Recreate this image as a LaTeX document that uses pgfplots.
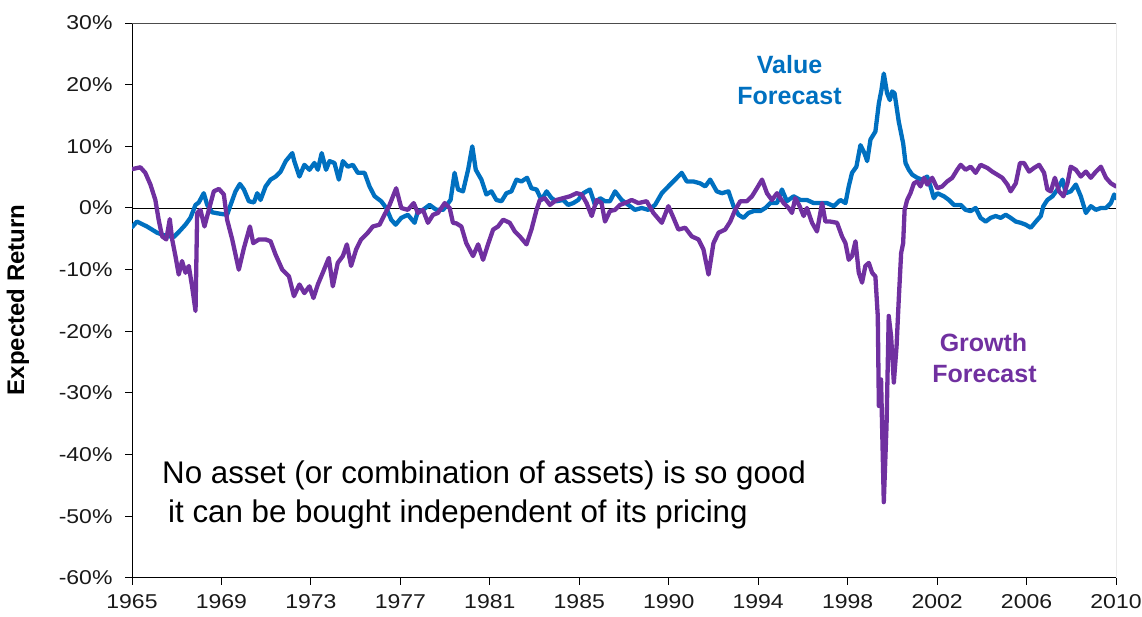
\documentclass[border=0pt]{standalone}
\usepackage{pgfplots}
\pgfplotsset{compat=1.18}
\usepackage{fontspec}
\setmainfont{Liberation Sans}
\newfontfamily\tickfont{Liberation Sans}[FakeStretch=1.15]
\definecolor{valblue}{HTML}{0070C0}
\definecolor{grpurple}{HTML}{7030A0}

\pgfplotstableread{
m y
0 -3.1
2.7 -2.2
8.2 -3.0
13.7 -4.0
18.3 -4.5
22.9 -4.7
25.6 -3.9
29.3 -2.7
32 -1.6
34.8 0.5
36.6 0.9
39.3 2.4
41.2 0.5
43.9 -0.7
47.6 -0.9
52.1 -1.1
54 0.5
56.7 2.7
59.1 3.9
61.3 3.0
64 1.1
66.8 0.9
68.6 2.4
70.4 1.3
73.2 3.5
75.9 4.6
78.7 5.1
81.4 5.9
84.2 7.6
87.8 8.9
88.9 7.6
91.7 5.1
94.4 7.0
97.2 6.2
99.9 7.3
101.8 6.2
103.9 8.9
106.3 6.2
108.2 7.6
110.9 7.3
113.3 4.6
115.5 7.6
118.2 6.7
121 7.0
123.7 5.7
127.4 5.7
130.1 3.5
132.9 1.9
136.5 1.1
139.3 0
142 -1.9
144.4 -2.7
147.5 -1.6
151.1 -1.1
154.8 -2.4
156.6 -0.5
159.4 -0.3
163 0.5
166.7 -0.3
170.4 -0.3
174.5 1.3
176.7 5.7
178.6 3.0
181.3 2.7
184.1 6.2
186.4 10.0
188.3 6.2
191.4 4.6
194.1 2.2
196.9 2.7
199.6 1.3
202.4 1.1
205.1 2.4
207.8 2.7
210.6 4.6
213.3 4.3
216.4 4.9
218.8 3.2
221.6 3.0
224.3 1.3
227.1 2.7
229.8 1.6
232.5 1.1
236.2 1.3
238.9 0.5
241.7 0.8
244.4 1.3
247.2 2.4
250.8 3.0
253.6 0.5
256.3 1.6
259.1 1.1
261.8 1.1
264.6 2.7
268.2 1.3
271.9 0.5
275.5 -0.3
279.2 0
282.8 -0.3
286.5 0.5
290.2 2.4
293.8 3.5
297.5 4.6
301.1 5.7
303.9 4.3
307.5 4.3
311.2 4.0
314 3.5
316.7 4.6
320.3 2.7
323.1 2.4
326.7 2.7
329.5 0.3
332.2 -1.1
335 -1.6
337.7 -0.8
340.5 -0.5
344.1 -0.5
346.9 0
349.6 0.8
353.3 0.8
356 3.0
358.7 1.1
362.4 1.9
366.1 1.3
369.7 1.3
373.4 0.8
377 0.8
380.7 0.8
384.4 0.3
388 1.3
390.8 0.8
392.6 3.5
394.4 5.7
396.8 6.7
399 10.2
401.2 8.9
402.7 7.6
404.5 11.1
407.2 12.4
409.1 17.0
410.5 19.1
411.8 21.8
413.6 18.6
415.1 17.5
416.4 18.9
417.7 18.6
420 14.0
422.4 10.5
423.7 7.3
425.5 6.2
427.4 5.4
430.1 4.9
432.8 4.6
435.6 5.1
437.4 3.5
439.2 1.6
441.1 2.4
444.7 1.9
447.5 1.3
450.2 0.5
453.9 0.5
456.6 -0.3
459.4 -0.5
462.1 0
464.8 -1.6
467.6 -2.2
470.3 -1.6
473.1 -1.3
475.8 -1.6
478.6 -1.1
481.3 -1.6
484.1 -2.2
486.8 -2.4
489.5 -2.7
492.3 -3.2
495.1 -2.2
497.8 -1.3
499.2 0.3
501.4 1.3
504.2 1.9
506.9 3.0
509.7 4.6
511.5 2.4
514.2 2.7
517 3.8
519.7 1.9
522.5 -0.8
525.2 0.3
528 -0.3
530.7 0
533.5 0
536.2 0.8
538 2.2
539 1.6
}\valuedata

\pgfplotstableread{
m y
0 6.3
4.6 6.6
7.3 5.7
10.1 3.8
12.8 1.3
14.6 -1.9
16.5 -4.6
18.8 -5.1
20.7 -1.8
22 -5.1
23.8 -7.8
25.6 -10.8
27.4 -8.6
29.3 -10.5
31.1 -9.4
32.9 -12.7
34.8 -16.7
35.7 -0.8
37.5 -0.3
39.7 -3.0
42.1 -0.3
44.8 2.7
47.6 3.1
50.3 2.2
52.1 -1.9
54.9 -5.1
58.5 -10.0
61.3 -6.5
64.6 -3.0
66.4 -5.7
69.5 -5.1
73.2 -5.1
75.9 -5.4
78.7 -7.6
82.3 -10.0
86 -11.1
88.7 -14.3
91.7 -12.4
94.4 -13.8
97.2 -12.7
99.4 -14.6
101.8 -12.4
104.5 -10.5
107.8 -8.1
110 -12.7
112.7 -8.9
115.5 -7.8
117.7 -5.9
120 -9.4
122.8 -6.7
125.5 -5.1
129.2 -4.0
131.9 -3.0
135.6 -2.7
138.3 -1.1
141.1 0.5
144.7 3.2
147.5 0
151.1 -0.3
154.3 0.8
156.6 -0.8
159.4 -0.3
162.1 -2.4
164.9 -1.1
167.6 -0.8
171.3 0.8
174 0
175.8 -2.4
177.7 -2.5
180.4 -3.0
183.1 -5.7
186.8 -7.8
189.6 -5.9
192.3 -8.4
195 -5.9
197.8 -3.5
200.5 -3.0
203.3 -1.9
206.9 -2.4
209.7 -3.8
212.4 -4.6
216.1 -5.9
218.8 -3.5
221.6 -0.3
223.4 1.3
226.1 1.6
228.9 0.5
232.5 1.3
236.2 1.6
239.9 1.9
243.5 2.4
246.3 2.2
249 0.8
251.8 -1.3
254.5 1.3
257.2 0.8
259.1 -2.2
261.8 -0.5
264.6 -0.3
267.3 0.5
270 0.8
273.7 1.3
277.4 0.8
281.9 1.1
285.6 -0.8
290.2 -2.4
293.8 0.3
296.6 -1.6
299.3 -3.5
303 -3.2
306.6 -4.6
310.3 -5.1
313 -6.7
315.8 -10.8
318.5 -5.7
321.3 -4.0
324.9 -3.5
327.7 -2.2
330.4 -0.3
333.2 1.1
336.8 1.1
339.6 1.9
342.3 3.2
345.1 4.6
347.8 2.4
350.5 1.3
353.3 2.4
356.9 0.8
359.7 0
361.5 -0.8
363.3 1.6
365.7 0.3
367.9 -1.3
369.7 0
372.5 -2.4
375.2 -3.8
378 0.8
379.8 -2.2
382.5 -2.2
386.2 -2.4
388.9 -4.6
390.8 -5.7
392.6 -8.4
394.4 -7.8
396.3 -5.4
398.1 -10.5
399.9 -12.1
401.7 -9.4
403.6 -8.9
405.4 -10.5
407.2 -11.1
408.5 -17.5
409.1 -32.1
410.3 -27.8
411.8 -47.7
413.3 -35.3
414.5 -17.5
415.8 -20.8
417.3 -28.3
418.8 -22.4
420 -14.8
421.3 -7.3
422.4 -5.7
423.2 -0.3
424.6 1.3
426.4 2.4
428.3 4.0
430.1 4.3
431.9 3.5
433.8 4.9
435.6 3.8
438.3 4.9
441.1 3.2
443.8 3.5
446.5 4.3
449.3 4.9
452 6.2
453.9 7.0
456.6 6.2
459.4 6.7
462.1 5.7
464.8 7.0
468.5 6.5
471.2 5.9
474 5.4
476.7 4.9
479.5 3.8
481.3 2.7
484.1 4.0
486.4 7.3
488.6 7.3
491.4 5.9
494.1 6.5
496.9 7.0
499.6 5.7
501.4 3.0
503.3 2.7
505.5 4.9
507.8 2.7
510.2 1.9
512.4 4.0
514.2 6.7
517 6.2
519.7 5.1
522.5 5.9
525.2 4.9
528 5.9
530.7 6.7
533.5 4.9
536.2 4.0
539 3.5
}\growthdata

\begin{document}
\begin{tikzpicture}[x=1pt,y=1pt]
\path[use as bounding box] (0,0) rectangle (1142,617);
\begin{axis}[
  at={(132pt,39pt)}, anchor=south west,
  scale only axis, width=984pt, height=555pt,
  xmin=0, xmax=539, ymin=-60, ymax=30,
  axis lines=left,
  axis line style={black, line width=1pt, -},
  xtick={0,49,...,539},
  xticklabels={1965,1969,1973,1977,1981,1985,1990,1994,1998,2002,2006,2010},
  ytick={-60,-50,...,30},
  yticklabels={-60\%,-50\%,-40\%,-30\%,-20\%,-10\%,0\%,10\%,20\%,30\%},
  tick align=outside,
  major tick length=7pt,
  tick style={black, line width=1pt},
  ticklabel style={font=\tickfont\fontsize{20}{22}\selectfont, text=black!90},
  yticklabel style={xshift=-9pt},
  xticklabel style={yshift=-6pt},
]
\draw[black!70, line width=1pt] (rel axis cs:0,1) -- (rel axis cs:1,1) -- (rel axis cs:1,0);
\draw[black, line width=0.8pt] (axis cs:0,0) -- (axis cs:539,0);
\addplot[valblue, line width=4.3pt, line join=round, line cap=round] table[x=m, y=y] {\valuedata};
\addplot[grpurple, line width=4.3pt, line join=round, line cap=round] table[x=m, y=y] {\growthdata};
\end{axis}

\node[rotate=90, anchor=center, text=black, font=\bfseries\fontsize{24}{28}\selectfont] at (18, 317) {Expected Return};

\node[anchor=base, text=valblue, font=\bfseries\fontsize{25}{30}\selectfont] at (789.5, 617-73.5) {Value};
\node[anchor=base, text=valblue, font=\bfseries\fontsize{25}{30}\selectfont] at (789.5, 617-104.4) {Forecast};
\node[anchor=base, text=grpurple, font=\bfseries\fontsize{25}{30}\selectfont] at (983.5, 617-352) {Growth};
\node[anchor=base, text=grpurple, font=\bfseries\fontsize{25}{30}\selectfont] at (984.5, 617-382.2) {Forecast};

\node[anchor=base west, inner sep=0pt, font=\fontsize{31.3}{39}\selectfont] at (162, 617-484) {No asset (or combination of assets) is so good};
\node[anchor=base west, inner sep=0pt, font=\fontsize{31.3}{39}\selectfont] at (168, 617-523) {it can be bought independent of its pricing};
\end{tikzpicture}
\end{document}
